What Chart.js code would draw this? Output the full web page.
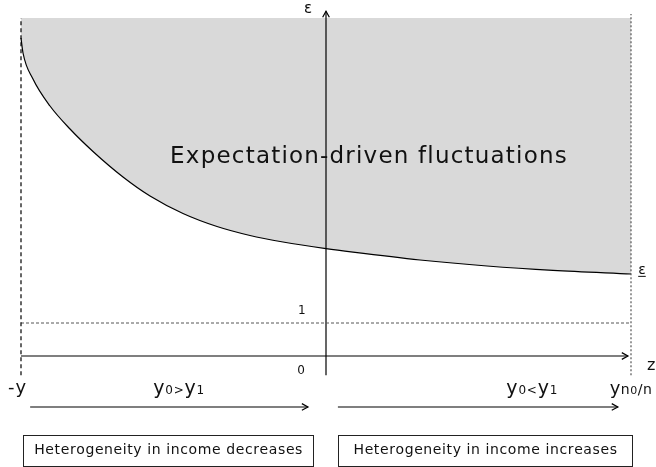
<!DOCTYPE html>
<html>
<head>
<meta charset="utf-8">
<script src="https://cdn.jsdelivr.net/npm/chart.js@4.4.1/dist/chart.umd.min.js"></script>
<style>
  html, body { margin: 0; padding: 0; background: #fff; }
  #wrap { width: 656px; height: 467px; }
</style>
</head>
<body>
<div id="wrap"><canvas id="diagram"></canvas></div>
<script>
// Boundary curve (z on the horizontal axis, epsilon on the vertical one)
const curveZ   = [-1.0, -0.9934, -0.9607, -0.9049, -0.8393, -0.7639, -0.6656, -0.577, -0.4689, -0.3574, -0.2492, -0.141, 0, 0.0885, 0.3082, 0.5279, 0.7443, 1.0];
const curveEps = [9.636, 9.182, 8.394, 7.576, 6.879, 6.197, 5.424, 4.848, 4.318, 3.924, 3.652, 3.455, 3.252, 3.145, 2.909, 2.727, 2.594, 2.485];
const shadeTop = 10.24;
const zBounds = [-1, 1];     // -y and y n0/n
const epsOne = 1;

const FONT = '"DejaVu Sans", Verdana, sans-serif';

function pts(xs, ys) {
    return xs.map((x, i) => ({ x: x, y: ys[i] }));
}

// labels in data coordinates; parts = [text, font size]
const labels = [
    { parts: [['ε', 15]], z: -0.059, eps: 10.5 },
    { parts: [['Expectation-driven fluctuations', 23]], z: 0.139, eps: 5.85, spacing: 1.2, base: 'alphabetic' },
    { parts: [['1', 12]], z: -0.079, eps: 1.36 },
    { parts: [['0', 12]], z: -0.082, eps: -0.45 },
    { parts: [['ε', 14]], z: 1.036, eps: 2.61, underline: true },
    { parts: [['z', 16]], z: 1.066, eps: -0.30 },
    { parts: [['-y', 18]], z: -1.013, eps: -0.97, spacing: 1 },
    { parts: [['y', 19], ['0', 12], ['>', 12], ['y', 19], ['1', 12]], z: -0.483, eps: -1.0, spacing: 0.8 },
    { parts: [['y', 19], ['0', 12], ['<', 12], ['y', 19], ['1', 12]], z: 0.675, eps: -1.0, spacing: 0.8 },
    { parts: [['y', 18], ['n', 14], ['0', 11], ['/n', 14]], z: 0.93, eps: -1.0, align: 'left', spacing: 0.5 }
];

const boxes = [
    { text: 'Heterogeneity in income decreases', z0: -0.993, z1: -0.043, e0: -2.39, e1: -3.33 },
    { text: 'Heterogeneity in income increases', z0: 0.039, z1: 1.003, e0: -2.39, e1: -3.33 }
];

// draws text char by char so letter spacing works everywhere
function spacedWidth(ctx, text, sp) {
    return ctx.measureText(text).width + sp * text.length;
}
function spacedText(ctx, text, x, y, sp) {
    for (const ch of text) {
        ctx.fillText(ch, x, y);
        x += ctx.measureText(ch).width + sp;
    }
    return x;
}

const annotationPlugin = {
    id: 'annotations',
    afterDatasetsDraw(chart) {
        const ctx = chart.ctx;
        const xs = chart.scales.x, ys = chart.scales.y;
        // arrow heads
        chart.data.datasets.forEach(ds => {
            if (!ds.arrow) return;
            const n = ds.data.length;
            const a = ds.data[n - 2], b = ds.data[n - 1];
            const x1 = xs.getPixelForValue(a.x), y1 = ys.getPixelForValue(a.y);
            const x2 = xs.getPixelForValue(b.x), y2 = ys.getPixelForValue(b.y);
            const ang = Math.atan2(y2 - y1, x2 - x1);
            const len = 7, spread = 0.5;
            ctx.save();
            ctx.strokeStyle = '#000';
            ctx.lineWidth = 1.2;
            ctx.beginPath();
            ctx.moveTo(x2 - len * Math.cos(ang - spread), y2 - len * Math.sin(ang - spread));
            ctx.lineTo(x2, y2);
            ctx.lineTo(x2 - len * Math.cos(ang + spread), y2 - len * Math.sin(ang + spread));
            ctx.stroke();
            ctx.restore();
        });
    },
    afterDraw(chart) {
        const ctx = chart.ctx;
        const xs = chart.scales.x, ys = chart.scales.y;
        ctx.save();
        ctx.fillStyle = '#111';
        ctx.textAlign = 'left';
        labels.forEach(l => {
            const sp = l.spacing || 0;
            let total = 0;
            l.parts.forEach(p => {
                ctx.font = p[1] + 'px ' + FONT;
                total += spacedWidth(ctx, p[0], sp);
            });
            total -= sp;
            let x = xs.getPixelForValue(l.z);
            const y = ys.getPixelForValue(l.eps);
            if (l.align !== 'left') x -= total / 2;
            const startX = x;
            const multi = l.parts.length > 1;
            ctx.textBaseline = multi ? 'alphabetic' : (l.base || 'middle');
            l.parts.forEach(p => {
                ctx.font = p[1] + 'px ' + FONT;
                x = spacedText(ctx, p[0], x, multi ? y + 5 : y, sp);
            });
            if (l.underline) {
                ctx.strokeStyle = '#111';
                ctx.lineWidth = 1;
                ctx.beginPath();
                ctx.moveTo(startX, y + 6.5);
                ctx.lineTo(startX + total, y + 6.5);
                ctx.stroke();
            }
        });
        boxes.forEach(b => {
            const x0 = xs.getPixelForValue(b.z0), x1 = xs.getPixelForValue(b.z1);
            const y0 = ys.getPixelForValue(b.e0), y1 = ys.getPixelForValue(b.e1);
            ctx.strokeStyle = '#222';
            ctx.lineWidth = 1;
            ctx.strokeRect(Math.round(x0) + 0.5, Math.round(y0) + 0.5, Math.round(x1 - x0), Math.round(y1 - y0));
            ctx.font = '14px ' + FONT;
            ctx.textBaseline = 'middle';
            const sp = 0.6;
            const w = spacedWidth(ctx, b.text, sp) - sp;
            spacedText(ctx, b.text, (x0 + x1) / 2 - w / 2, (y0 + y1) / 2, sp);
        });
        ctx.restore();
    }
};

const ctx = document.getElementById('diagram').getContext('2d');
const chart = new Chart(ctx, {
    type: 'scatter',
    data: {
        datasets: [
            {   // shaded region above the boundary
                data: pts(curveZ, curveEps),
                showLine: true,
                borderColor: '#000',
                borderWidth: 1.2,
                backgroundColor: '#d9d9d9',
                fill: { value: shadeTop },
                cubicInterpolationMode: 'monotone',
                pointRadius: 0,
                order: 5
            },
            {   // left bound
                data: pts([zBounds[0], zBounds[0]], [-0.58, shadeTop]),
                showLine: true, borderColor: '#000', borderWidth: 1.2,
                borderDash: [4, 3], pointRadius: 0, fill: false
            },
            {   // right bound
                data: pts([zBounds[1], zBounds[1]], [-0.58, 10.36]),
                showLine: true, borderColor: '#555', borderWidth: 1.2,
                borderDash: [2, 2], pointRadius: 0, fill: false
            },
            {   // epsilon = 1
                data: pts(zBounds, [epsOne, epsOne]),
                showLine: true, borderColor: '#555', borderWidth: 1,
                borderDash: [3, 2], pointRadius: 0, fill: false
            },
            {   // z axis
                data: pts([zBounds[0], 0.99], [0, 0]),
                showLine: true, borderColor: '#000', borderWidth: 1.2,
                pointRadius: 0, fill: false, arrow: true
            },
            {   // epsilon axis
                data: pts([0, 0], [-0.58, 10.45]),
                showLine: true, borderColor: '#000', borderWidth: 1.2,
                pointRadius: 0, fill: false, arrow: true
            },
            {   // y0 > y1 direction
                data: pts([-0.970, -0.059], [-1.545, -1.545]),
                showLine: true, borderColor: '#000', borderWidth: 1.2,
                pointRadius: 0, fill: false, arrow: true
            },
            {   // y0 < y1 direction
                data: pts([0.039, 0.957], [-1.545, -1.545]),
                showLine: true, borderColor: '#000', borderWidth: 1.2,
                pointRadius: 0, fill: false, arrow: true
            }
        ]
    },
    options: {
        responsive: true,
        maintainAspectRatio: false,
        animation: false,
        layout: { padding: 0 },
        scales: {
            x: { type: 'linear', display: false, min: -326 / 305, max: 330 / 305 },
            y: { type: 'linear', display: false, min: -111 / 33, max: 356 / 33 }
        },
        plugins: {
            legend: { display: false },
            tooltip: { enabled: false }
        },
        elements: { line: { tension: 0 } }
    },
    plugins: [annotationPlugin]
});
</script>
</body>
</html>
